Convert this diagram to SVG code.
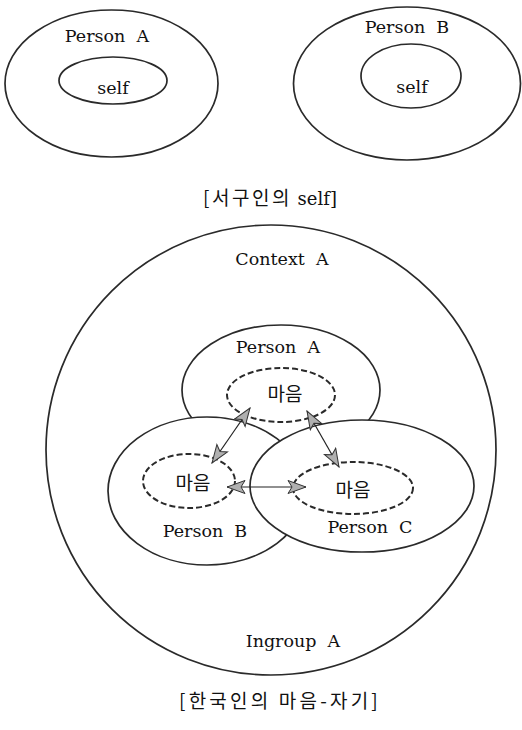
<svg xmlns="http://www.w3.org/2000/svg" width="522" height="730" viewBox="0 0 522 730">
<style>
.ln{fill:none;stroke:#2a2a2a;stroke-width:1.7}
.wf{fill:#fff;stroke:#2a2a2a;stroke-width:1.7}
.ds{fill:none;stroke:#2a2a2a;stroke-width:2;stroke-dasharray:6 3}
.t{font-family:"DejaVu Serif",serif;font-size:17.5px;fill:#111;text-anchor:middle;white-space:pre}
.k{font-family:"Noto Sans CJK KR",sans-serif;font-size:19px;fill:#111;text-anchor:middle}
.c{font-family:"Noto Sans CJK KR",sans-serif;font-size:19px;fill:#111;text-anchor:middle;white-space:pre}
.ar{fill:none;stroke:#222;stroke-width:1.2}
</style>
<defs>
<marker id="ah" viewBox="0 0 20 15" refX="19" refY="7.5" markerWidth="20" markerHeight="15" markerUnits="userSpaceOnUse" orient="auto-start-reverse">
<path d="M1,1 L19,7.5 L1,14 L5,7.5 Z" fill="#b0b0b0" stroke="#333" stroke-width="1"/>
</marker>
</defs>
<rect width="522" height="730" fill="#fff"/>
<g id="western-personA">
<ellipse class="ln" cx="111.5" cy="83.5" rx="106.5" ry="73.5"/>
<text class="t" x="107" y="42">Person  A</text>
</g>
<g id="western-selfA">
<ellipse class="ln" cx="113" cy="80.5" rx="54" ry="23.5"/>
<text class="t" x="113" y="94">self</text>
</g>
<g id="western-personB">
<ellipse class="ln" cx="407" cy="83.5" rx="113.5" ry="76.5"/>
<text class="t" x="407" y="33">Person  B</text>
</g>
<g id="western-selfB">
<ellipse class="ln" cx="411" cy="76" rx="50" ry="32"/>
<text class="t" x="412" y="93">self</text>
</g>
<text class="c" x="270" y="205"><tspan letter-spacing="2.5">[서구인의</tspan><tspan font-family="DejaVu Serif, serif" font-size="18"> self]</tspan></text>
<g id="context">
<ellipse class="ln" cx="271" cy="450" rx="225" ry="225"/>
<text class="t" x="282" y="265">Context  A</text>
<text class="t" x="293" y="647">Ingroup  A</text>
</g>
<g id="personA">
<ellipse class="wf" cx="281" cy="390" rx="99" ry="65"/>
</g>
<g id="personB">
<ellipse class="wf" cx="207" cy="491" rx="99" ry="74"/>
</g>
<g id="personC">
<ellipse class="wf" cx="362" cy="486" rx="112" ry="66"/>
</g>
<g id="maeumA">
<ellipse class="ds" cx="281" cy="395" rx="54" ry="27"/>
<text class="t" x="278" y="353">Person  A</text>
<text class="k" x="285" y="401">마음</text>
</g>
<g id="maeumB">
<ellipse class="ds" cx="189" cy="481" rx="46" ry="27"/>
<text class="k" x="193" y="490">마음</text>
<text class="t" x="205" y="537">Person  B</text>
</g>
<g id="maeumC">
<ellipse class="ds" cx="353" cy="488" rx="60" ry="26"/>
<text class="k" x="353" y="497">마음</text>
<text class="t" x="370" y="533">Person  C</text>
</g>
<g id="connectors">
<line class="ar" x1="250" y1="408" x2="212" y2="463" marker-start="url(#ah)" marker-end="url(#ah)"/>
<line class="ar" x1="307" y1="411" x2="339" y2="467" marker-start="url(#ah)" marker-end="url(#ah)"/>
<line class="ar" x1="227" y1="487" x2="306" y2="487" marker-start="url(#ah)" marker-end="url(#ah)"/>
</g>
<text class="c" x="280" y="708" letter-spacing="3.2">[한국인의 마음-자기]</text>
</svg>
